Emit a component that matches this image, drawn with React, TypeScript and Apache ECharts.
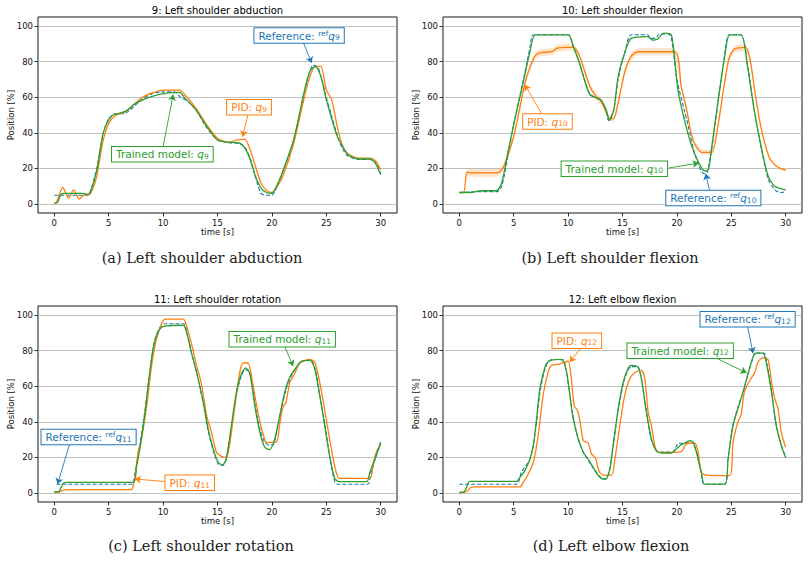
import React, { useEffect, useRef } from "react";
import * as echarts from "echarts";

const BLUE = "#1f77b4";
const ORANGE = "#ff7f0e";
const GREEN = "#2ca02c";
const FONT = "DejaVu Sans";

type Pt = [number, number];

const timeTicks = [0, 5, 10, 15, 20, 25, 30];
const positionTicks = [0, 20, 40, 60, 80, 100];

const jointNumbers = ["9", "10", "11", "12"];
const jointTitles = [
  "9: Left shoulder abduction",
  "10: Left shoulder flexion",
  "11: Left shoulder rotation",
  "12: Left elbow flexion",
];
const captions = [
  "(a) Left shoulder abduction",
  "(b) Left shoulder flexion",
  "(c) Left shoulder rotation",
  "(d) Left elbow flexion",
];

// ---- joint 9: left shoulder abduction ----
const abductionRef: Pt[] = [
  [0, 5], [3, 5], [3.3, 7], [3.9, 20], [4.5, 40], [5, 48], [5.5, 50.5], [6.5, 51], [7, 53], [8, 58.5],
  [9, 62], [10, 63], [11, 63], [11.6, 60], [12.3, 57.5], [13, 53], [14, 43], [15, 36], [16, 34.5], [17, 34],
  [17.5, 32], [18, 26], [18.5, 15], [19, 6], [19.5, 5], [20, 5], [20.5, 10], [21, 18], [22, 36], [23, 63],
  [23.5, 75], [23.8, 78], [24.2, 77], [24.5, 72], [25, 60], [26, 39], [26.5, 31], [27, 27], [28, 25], [29, 25],
  [29.5, 24], [30, 17],
];
const abductionPid: Pt[] = [
  [0, 0.5], [0.2, 1], [0.5, 6], [0.77, 9.4], [1.0, 7], [1.29, 3.4], [1.5, 5], [1.74, 8], [2.0, 6], [2.27, 2.8],
  [2.6, 4.5], [2.8, 5.2], [3.2, 5.2], [3.5, 8], [3.9, 15.5], [4.5, 36], [5.1, 46.4], [5.7, 50], [6.6, 52], [8, 59.5],
  [9, 62.4], [10, 64], [11.5, 64], [12, 61.4], [13, 54], [14, 44.6], [15, 37], [16, 34.6], [16.8, 36], [17.5, 36.5],
  [18, 30.5], [18.5, 21], [19, 11.8], [19.5, 7.7], [20, 6.5], [20.5, 10], [21, 15.5], [22, 34], [23, 60.5], [23.5, 71.7],
  [24, 77.3], [24.5, 77.3], [25, 64], [25.5, 58.6], [26, 43.6], [26.5, 32.4], [27, 28.3], [28, 25.8], [29, 25.8], [29.5, 24.5],
  [30, 19.3],
];
const abductionModel: Pt[] = [
  [0, 0.5], [0.3, 1], [0.6, 5.5], [0.9, 6], [2.5, 6], [3.1, 5.5], [3.4, 8], [3.9, 19], [4.5, 40], [5, 47.4],
  [5.4, 50], [6.5, 52], [7.5, 56.7], [9, 60.5], [10.5, 62.4], [11.5, 62.7], [12, 59.5], [13, 53], [14, 43.6], [15, 36],
  [16, 34.8], [17, 34.3], [17.5, 31.5], [18, 25], [18.5, 15.5], [19, 9], [19.5, 6.5], [20, 6], [20.5, 11], [21, 18.4],
  [22, 36], [23, 64], [23.5, 74.5], [24, 77.3], [24.5, 71.7], [25, 58.6], [26, 38], [26.5, 32.4], [27, 27.7], [28, 25.3],
  [29, 25.3], [29.5, 23], [30, 16.5],
];

// ---- joint 10: left shoulder flexion ----
const flexionRef: Pt[] = [
  [0, 6.5], [2, 7], [3.5, 7], [3.9, 10], [4.5, 28], [5, 45], [6, 73], [6.5, 88], [6.8, 95], [10, 95],
  [10.5, 88], [11, 80], [12, 62], [13, 58], [13.5, 52], [13.7, 47], [14.2, 53], [14.6, 70], [15.2, 85], [15.8, 95],
  [17.3, 95], [17.6, 93], [18, 93], [18.4, 95.5], [19.2, 95.5], [19.5, 93], [20, 70], [21, 45], [21.6, 29], [22.2, 19],
  [22.5, 17], [22.8, 18], [23.2, 31], [23.8, 58], [24.4, 84], [24.8, 95], [25.9, 95], [26.5, 78], [27.1, 53], [27.8, 30],
  [28.4, 14], [29, 8], [29.5, 6.5], [30, 7],
];
const flexionPid: Pt[] = [
  [0, 6.5], [0.4, 6.5], [0.7, 18], [1, 17.5], [3.5, 17.5], [4, 20], [5, 38], [6, 67], [6.5, 77], [7, 83.5],
  [7.5, 85], [8.5, 85.5], [9, 87.5], [10, 88], [10.5, 88], [11, 84], [11.5, 75], [12, 66], [12.5, 61], [13, 58],
  [13.4, 53], [13.8, 48], [14.2, 48], [14.6, 57], [15.2, 74], [15.8, 83], [16.4, 85.5], [19.8, 85.5], [20.4, 66], [20.9, 53],
  [21.3, 40], [21.7, 33], [22.3, 29], [23.2, 29], [23.8, 45], [24.3, 65], [24.8, 82], [25.3, 87], [26.3, 88], [26.7, 82],
  [27.2, 62], [27.6, 47], [28, 36], [28.5, 26], [29, 22], [29.5, 20], [30, 19],
];
// half-width of the shaded PID spread, one value per flexionPid sample
const flexionPidSpread = [
  0.3, 0.3, 2, 2.2, 2.2, 1.5, 1.5, 1.5, 2, 2,
  2, 2, 2, 2, 2, 1.5, 1.5, 1.5, 2, 2,
  1.5, 1.5, 1.5, 1.5, 1.5, 2, 2, 2, 1.5, 1.5,
  1.5, 1.5, 1.5, 1.5, 1.5, 1.5, 1.5, 2, 2, 2,
  1.5, 1.5, 1.2, 1, 0.8, 0.6, 0.5,
];
const flexionModel: Pt[] = [
  [0, 6.5], [1, 6.5], [2, 7.5], [3.4, 7.5], [3.9, 12], [4.5, 30], [5, 44.6], [6, 71.7], [6.5, 85.8], [7, 95],
  [10, 95], [10.5, 88], [11, 80], [12, 61.4], [13, 58.6], [13.5, 53], [13.8, 47], [14.2, 53], [14.6, 71.7], [15.2, 84.8],
  [15.8, 93], [17.3, 94], [17.8, 92], [18.2, 92.5], [18.8, 96], [19.5, 95], [20.1, 64], [21, 40], [21.6, 28.7], [22.3, 20],
  [22.6, 18.5], [22.9, 19.5], [23.2, 32], [23.8, 58.6], [24.4, 83], [24.85, 95], [25.9, 95], [26.5, 77], [27.1, 53], [27.8, 30.5],
  [28.4, 15.5], [29, 10], [30, 8],
];

// ---- joint 11: left shoulder rotation ----
const rotationRef: Pt[] = [
  [0.2, 5], [7.1, 5], [7.4, 11], [7.8, 25], [8.3, 45], [8.8, 69], [9.2, 85], [9.7, 93], [10.2, 95], [11.9, 95],
  [12.2, 90], [12.6, 79], [13.1, 67], [13.7, 50], [14.1, 36], [14.6, 24], [15.1, 16], [15.5, 15.5], [15.8, 19], [16.3, 38],
  [16.8, 57], [17.2, 66], [17.5, 69], [17.8, 69], [18.1, 64], [18.5, 48], [18.9, 36], [19.3, 29], [19.7, 27], [20.1, 27],
  [20.5, 36], [20.9, 48], [21.4, 60], [21.9, 67], [22.6, 73], [23, 74.5], [23.6, 74.5], [24, 69], [24.4, 55], [24.9, 38],
  [25.3, 21], [25.7, 8], [26, 5], [28.8, 5], [29.1, 11], [29.5, 19], [30, 28],
];
const rotationPid: Pt[] = [
  [0, 0.5], [0.37, 0.5], [0.83, 1.7], [1.75, 1.9], [7.1, 2], [7.2, 3], [7.4, 8], [7.7, 23], [8, 30], [8.5, 49],
  [8.94, 71.7], [9.4, 86.7], [9.86, 95], [10.2, 97.6], [11.85, 97.6], [12.15, 94], [12.6, 84], [13.07, 71.7], [13.5, 62], [14, 43.5],
  [14.45, 34], [14.9, 22.9], [15.37, 20.6], [15.8, 20], [16.1, 26.6], [16.6, 49], [17.05, 68], [17.36, 73], [17.8, 73], [18.27, 60.4],
  [18.6, 49], [18.9, 39.8], [19.2, 33], [19.5, 28.5], [20.4, 28.5], [20.7, 38], [21, 48], [21.3, 51], [21.64, 62], [22.1, 67],
  [22.56, 73], [23.5, 75], [23.94, 73.5], [24.4, 62], [24.85, 47], [25.3, 30.4], [25.77, 15.4], [26.2, 8.3], [29, 8.3], [29.3, 15.4],
  [29.6, 22.9], [30, 27],
];
const rotationModel: Pt[] = [
  [0, 0.75], [0.37, 0.75], [0.83, 5.6], [1.2, 6], [7.25, 6], [7.56, 15], [7.87, 25], [8.33, 45], [8.78, 68], [9.18, 84],
  [9.7, 92], [10.3, 93.8], [11.85, 94.2], [12.15, 90.4], [12.6, 79], [13.07, 68], [13.7, 51], [14.14, 36], [14.6, 24.8], [15.06, 17.3],
  [15.46, 15.8], [15.8, 19], [16.28, 38], [16.74, 56.7], [17.2, 67], [17.6, 70.2], [17.97, 67], [18.43, 49], [18.9, 34], [19.35, 25.7],
  [19.8, 24.4], [20.26, 30.4], [20.72, 43.5], [21.18, 56.7], [21.64, 65], [22.25, 70.7], [22.7, 74], [23.5, 74.5], [23.94, 69.8], [24.4, 54.8],
  [24.85, 38], [25.3, 21], [25.77, 8.3], [26.2, 6.4], [28.7, 6.4], [29, 11.6], [29.45, 19], [30, 28.5],
];

// ---- joint 12: left elbow flexion ----
const elbowRef: Pt[] = [
  [0, 5], [5.26, 5], [5.7, 11.6], [6.49, 19], [6.8, 27], [7.1, 40], [7.4, 56], [7.8, 68], [8.2, 74], [8.6, 75],
  [9.5, 75], [9.8, 70], [10.1, 58], [10.4, 45], [10.9, 31], [11.4, 23], [11.8, 19], [12.3, 14], [12.8, 10], [13.2, 8],
  [13.5, 8], [13.8, 13], [14.1, 25], [14.6, 46], [15.1, 62], [15.5, 69], [15.8, 71], [16.4, 71], [16.7, 65], [17.2, 46],
  [17.6, 31], [18.1, 24], [18.5, 23], [19.6, 23], [19.9, 26], [20.2, 28], [20.7, 28], [21.2, 29], [21.5, 28.5], [21.8, 23],
  [22.2, 12], [22.5, 5], [24.4, 5], [24.7, 19], [25.1, 37], [25.6, 48], [26.1, 57], [26.5, 66], [26.9, 74], [27.2, 78.6],
  [28, 78.6], [28.3, 72], [28.7, 57], [29.1, 39], [29.6, 27], [30, 20],
];
const elbowPid: Pt[] = [
  [0, 0], [0.67, 0.9], [1.13, 3.4], [1.5, 3.5], [5.57, 3.5], [5.88, 6], [6.34, 10.7], [6.8, 17.3], [7.25, 32.3], [7.7, 54.8],
  [8.17, 68], [8.48, 71.7], [9.1, 72.2], [9.55, 73.2], [10, 74], [10.3, 64.2], [10.56, 49], [10.87, 46.3], [11.1, 39.8], [11.4, 29.5],
  [11.85, 28.1], [12.15, 22], [12.52, 19.5], [12.83, 12.6], [13.2, 10.1], [14, 10.1], [14.3, 19], [14.75, 37.9], [15.2, 54.8], [15.67, 64.2],
  [16.13, 67.5], [16.74, 68.9], [17.05, 64.2], [17.36, 45.4], [17.66, 37.9], [17.97, 26.6], [18.27, 22.9], [19.5, 22.9], [20.4, 23.3], [20.87, 27.6],
  [21.64, 28.1], [21.95, 22.9], [22.25, 11.6], [22.7, 10.1], [24.85, 9.8], [25.16, 28.5], [25.6, 39.8], [25.9, 43.7], [26.2, 56.7], [26.7, 63.2],
  [27.15, 67.5], [27.45, 73.5], [27.9, 76], [28.37, 75], [28.7, 62.3], [29, 52.9], [29.3, 47.3], [29.6, 34], [30, 25.7],
];
const elbowModel: Pt[] = [
  [0, 0.4], [0.46, 0.75], [0.98, 6.6], [5.26, 6.6], [5.57, 8.8], [6.03, 12.6], [6.49, 19.1], [6.8, 26.6], [7.1, 41.6], [7.4, 58.5],
  [7.87, 70.7], [8.23, 74], [9.1, 75], [9.55, 74], [9.86, 68], [10.16, 54.8], [10.47, 41.6], [10.93, 30.4], [11.39, 22.9], [11.85, 19],
  [12.3, 14.4], [12.76, 10], [13.2, 7.9], [13.53, 8.3], [13.84, 13.5], [14.14, 26.6], [14.6, 47.3], [15.06, 62.3], [15.5, 69.8], [15.8, 71.7],
  [16.43, 70.7], [16.74, 64.2], [17.2, 45.4], [17.66, 30.4], [18.1, 23.8], [18.58, 22.5], [19.5, 22.5], [19.8, 23.8], [20.26, 26.6], [20.72, 28.1],
  [21.18, 29.5], [21.48, 28.5], [21.8, 22.9], [22.25, 11.6], [22.56, 5], [24.4, 5], [24.7, 19], [25.16, 37.9], [25.6, 47.3], [26.08, 56.7],
  [26.54, 67], [27, 76.4], [27.3, 78.6], [27.9, 78.6], [28.2, 73.5], [28.7, 56.7], [29.14, 37.9], [29.6, 26.6], [30, 20],
];

// ---- callouts: label centre, arrow tail and arrow head, in (time, position) ----
type Note = { box: Pt; from: Pt; to: Pt };
type Notes = { ref: Note; pid: Note; model: Note };

const abductionNotes: Notes = {
  ref: { box: [22.5, 94.6], from: [22.9, 90.5], to: [23.65, 79.3] },
  pid: { box: [17.9, 54.3], from: [17.8, 50.3], to: [17.3, 37.8] },
  model: { box: [9.93, 28], from: [10.0, 32.3], to: [10.93, 61.5] },
};
const flexionNotes: Notes = {
  ref: { box: [23.35, 3.4], from: [23.0, 7.8], to: [22.65, 17] },
  pid: { box: [8.1, 46.3], from: [7.56, 50.8], to: [6.03, 67] },
  model: { box: [14.25, 19.85], from: [19.2, 20.2], to: [22.0, 23] },
};
const rotationNotes: Notes = {
  ref: { box: [3.15, 31.5], from: [1.38, 27], to: [0.3, 5.1] },
  pid: { box: [12.45, 5.8], from: [10.3, 6.4], to: [7.4, 7.9] },
  model: { box: [20.95, 86.3], from: [21.2, 82], to: [21.95, 71.3] },
};
const elbowNotes: Notes = {
  ref: { box: [26.5, 97.6], from: [26.5, 93.3], to: [27.0, 78.5] },
  pid: { box: [10.8, 85.5], from: [11.2, 81.5], to: [10.15, 73.6] },
  model: { box: [20.3, 79.9], from: [23.6, 75.8], to: [26.4, 67.5] },
};

const panels = [
  { ref: abductionRef, pid: abductionPid, model: abductionModel, notes: abductionNotes },
  { ref: flexionRef, pid: flexionPid, model: flexionModel, notes: flexionNotes },
  { ref: rotationRef, pid: rotationPid, model: rotationModel, notes: rotationNotes },
  { ref: elbowRef, pid: elbowPid, model: elbowModel, notes: elbowNotes },
];

// ---- layout ----
const PANEL_W = 359;
const PANEL_H = 196;
const panelOrigins: Pt[] = [[38, 17], [443, 17], [38, 306], [443, 306]];
const captionAnchors: Pt[] = [[202, 258], [610, 258], [201, 546], [611, 546]];
const SMOOTH = 0.25;

function calloutText(kind: "ref" | "pid" | "model", joint: string) {
  if (kind === "ref") return `{t|Reference: }{sup|ref}{q|q}{sub|${joint}}`;
  if (kind === "pid") return `{t|PID: }{q|q}{sub|${joint}}`;
  return `{t|Trained model: }{q|q}{sub|${joint}}`;
}

function callout(kind: "ref" | "pid" | "model", joint: string, note: Note, color: string) {
  return {
    markPoint: {
      silent: true,
      animation: false,
      symbol: "circle",
      symbolSize: 0,
      data: [
        {
          coord: note.box,
          label: {
            show: true,
            position: "inside",
            formatter: calloutText(kind, joint),
            backgroundColor: "#ffffff",
            borderColor: color,
            borderWidth: 1,
            padding: [1, 4, 1, 4],
            color,
            fontFamily: FONT,
            fontSize: 10.5,
            rich: {
              t: { fontFamily: FONT, fontSize: 10.5, color, lineHeight: 12.5 },
              q: { fontFamily: FONT, fontSize: 10.5, fontStyle: "italic", color, lineHeight: 12.5 },
              sup: { fontFamily: FONT, fontSize: 7.5, color, lineHeight: 8, verticalAlign: "top" },
              sub: { fontFamily: FONT, fontSize: 7.5, color, lineHeight: 8, verticalAlign: "bottom" },
            },
          },
        },
      ],
    },
    markLine: {
      silent: true,
      animation: false,
      symbol: ["none", "arrow"],
      symbolSize: 6,
      label: { show: false },
      lineStyle: { color, width: 0.9, type: "solid" },
      emphasis: { disabled: true },
      data: [[{ coord: note.from }, { coord: note.to }]],
    },
  };
}

function lineSeries(gi: number, name: string, data: Pt[], color: string, z: number, dashed = false) {
  return {
    type: "line",
    name,
    xAxisIndex: gi,
    yAxisIndex: gi,
    data,
    symbol: "none",
    showSymbol: false,
    smooth: SMOOTH,
    z,
    silent: true,
    animation: false,
    emphasis: { disabled: true },
    itemStyle: { color },
    lineStyle: { color, width: dashed ? 1.1 : 1.3, type: dashed ? [4, 2] : "solid" },
  };
}

function buildOption() {
  const grid = panelOrigins.map(([left, top]) => ({
    left,
    top,
    width: PANEL_W,
    height: PANEL_H,
    show: true,
    borderColor: "#000",
    borderWidth: 0.9,
    backgroundColor: "transparent",
    containLabel: false,
    outerBoundsMode: "none",
  }));

  const tickText = { fontFamily: FONT, fontSize: 8.5, color: "#111" };

  const xAxis = panelOrigins.map((_, i) => ({
    type: "value",
    gridIndex: i,
    min: -1.5,
    max: 31.5,
    name: "time [s]",
    nameLocation: "middle",
    nameGap: 14,
    nameMoveOverlap: false,
    nameTextStyle: { ...tickText },
    axisLine: { show: false, onZero: false },
    axisTick: { show: true, length: 3.5, lineStyle: { color: "#000", width: 0.8 }, customValues: timeTicks },
    axisLabel: { ...tickText, margin: 5, customValues: timeTicks },
    splitLine: { show: false },
  }));

  const yAxis = panelOrigins.map((_, i) => ({
    type: "value",
    gridIndex: i,
    min: -5,
    max: 105,
    name: "Position [%]",
    nameLocation: "middle",
    nameGap: 23,
    nameRotate: 90,
    nameMoveOverlap: false,
    nameTextStyle: { ...tickText },
    axisLine: { show: false, onZero: false },
    axisTick: { show: true, length: 3.5, lineStyle: { color: "#000", width: 0.8 }, customValues: positionTicks },
    axisLabel: { ...tickText, margin: 5, customValues: positionTicks },
    splitLine: { show: true, lineStyle: { color: "#b0b0b0", width: 0.8 } },
  }));

  const series: any[] = [];
  panels.forEach((p, gi) => {
    const joint = jointNumbers[gi];
    if (gi === 1) {
      // shaded spread around the PID response, drawn as one polygon through the axis scales
      series.push({
        type: "custom",
        xAxisIndex: gi,
        yAxisIndex: gi,
        silent: true,
        z: 1,
        data: [[0, 0]],
        renderItem: (_params: any, api: any) => {
          const upper = flexionPid.map(([t, v], k) => api.coord([t, v + (flexionPidSpread[k] ?? 0)]));
          const lower = flexionPid
            .map(([t, v], k) => api.coord([t, v - (flexionPidSpread[k] ?? 0)]))
            .reverse();
          return {
            type: "polygon",
            shape: { points: upper.concat(lower) },
            style: { fill: "rgba(255,127,14,0.22)", stroke: "none" },
          };
        },
      });
    }
    series.push({
      ...lineSeries(gi, "Reference", p.ref, BLUE, 2, true),
      ...callout("ref", joint, p.notes.ref, BLUE),
    });
    series.push({
      ...lineSeries(gi, "PID", p.pid, ORANGE, 3),
      ...callout("pid", joint, p.notes.pid, ORANGE),
    });
    series.push({
      ...lineSeries(gi, "Trained model", p.model, GREEN, 4),
      ...callout("model", joint, p.notes.model, GREEN),
    });
  });

  const graphic: any[] = [];
  panelOrigins.forEach(([left, top], i) => {
    graphic.push({
      type: "text",
      x: left + PANEL_W / 2,
      y: top - 7,
      silent: true,
      style: {
        text: jointTitles[i],
        fontFamily: FONT,
        fontSize: 10,
        fill: "#000",
        align: "center",
        verticalAlign: "middle",
        textAlign: "center",
        textVerticalAlign: "middle",
      },
    });
  });
  captionAnchors.forEach(([x, y], i) => {
    graphic.push({
      type: "text",
      x,
      y,
      silent: true,
      style: {
        text: captions[i],
        fontFamily: "DejaVu Serif",
        fontSize: 14.5,
        fill: "#222",
        align: "center",
        verticalAlign: "middle",
        textAlign: "center",
        textVerticalAlign: "middle",
      },
    });
  });

  return {
    animation: false,
    backgroundColor: "#ffffff",
    grid,
    xAxis,
    yAxis,
    series,
    graphic,
  };
}

export default function App() {
  const ref = useRef<HTMLDivElement>(null);
  useEffect(() => {
    document.body.style.margin = "0";
    if (!ref.current) return;
    const chart = echarts.init(ref.current, null, { renderer: "svg" });
    chart.setOption(buildOption() as any);
    return () => chart.dispose();
  }, []);
  return <div ref={ref} style={{ width: 810, height: 561 }} />;
}
